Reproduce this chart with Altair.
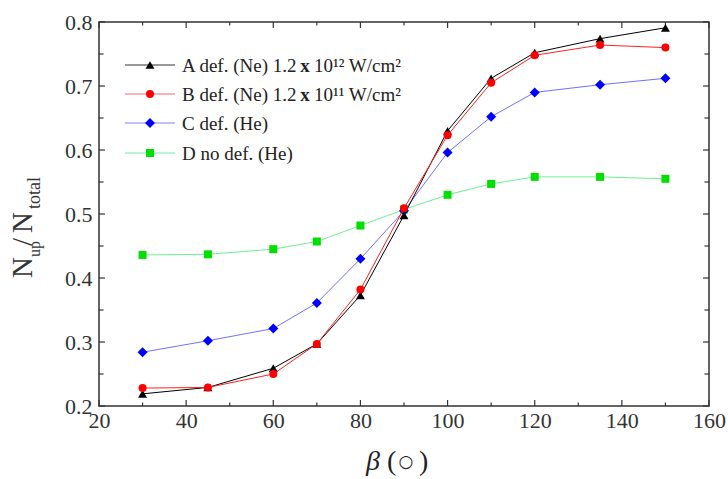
import altair as alt
import pandas as pd

# Detector angle beta (degrees)
beta = [30, 45, 60, 70, 80, 90, 100, 110, 120, 135, 150]

# Fraction N_up / N_total for each case
series_a = [0.219, 0.229, 0.259, 0.297, 0.373, 0.498, 0.630, 0.712, 0.752, 0.774, 0.791]
series_b = [0.228, 0.229, 0.250, 0.297, 0.382, 0.509, 0.623, 0.705, 0.748, 0.764, 0.760]
series_c = [0.284, 0.302, 0.321, 0.361, 0.430, 0.505, 0.596, 0.652, 0.690, 0.702, 0.712]
series_d = [0.436, 0.437, 0.445, 0.457, 0.482, 0.507, 0.530, 0.547, 0.558, 0.558, 0.555]

# Legend texts
legend_main = ["A def. (Ne) 1.2", "B def. (Ne) 1.2", "C def. (He)", "D no def. (He)"]
legend_power = ["10\u00b9\u00b2 W/cm\u00b2", "10\u00b9\u00b9 W/cm\u00b2"]

# Axis ticks
x_major = [20, 40, 60, 80, 100, 120, 140, 160]
x_minor = [30, 50, 70, 90, 110, 130, 150]
y_major = [0.2, 0.3, 0.4, 0.5, 0.6, 0.7, 0.8]
y_minor = [0.25, 0.35, 0.45, 0.55, 0.65, 0.75]

W, H = 610, 384
FONT = "Liberation Serif"

xs = alt.Scale(domain=[20, 160], nice=False, zero=False)
ys = alt.Scale(domain=[0.2, 0.8], nice=False, zero=False)

# One shared axis definition per direction (labels only; ticks drawn as rules)
x_axis = alt.Axis(values=x_major, title=None, ticks=False, domain=False, grid=False,
                  labelFlush=False, labelOverlap=False, labelPadding=4, labelFont=FONT,
                  labelFontSize=22, labelColor="#333333")
y_axis = alt.Axis(values=y_major, format=".1f", title=None, ticks=False, domain=False, grid=False,
                  labelOverlap=False, labelPadding=7, labelFont=FONT, labelFontSize=22,
                  labelColor="#333333")

def X(field):
    return alt.X(field, scale=xs, axis=x_axis)

def Y(field):
    return alt.Y(field, scale=ys, axis=y_axis)

styles = {
    "A": dict(vals=series_a, line="#000000", fill="#000000", shape="triangle-up", size=80),
    "B": dict(vals=series_b, line="#ff2020", fill="#ff0000", shape="circle", size=64),
    "C": dict(vals=series_c, line="#7070ff", fill="#0000ff", shape="diamond", size=100),
    "D": dict(vals=series_d, line="#70ee90", fill="#00e000", shape="square", size=64),
}

layers = []

# Inward tick marks on all four sides
TICK = "#333333"

def x_ticks(vals, length):
    df = pd.DataFrame({"x": vals})
    bottom = alt.Chart(df).mark_rule(color=TICK, strokeWidth=1.2).encode(
        x=X("x:Q"), y=alt.value(H), y2=alt.value(H - length))
    top = alt.Chart(df).mark_rule(color=TICK, strokeWidth=1.2).encode(
        x=X("x:Q"), y=alt.value(0), y2=alt.value(length))
    return [bottom, top]

def y_ticks(vals, length):
    df = pd.DataFrame({"y": vals})
    left = alt.Chart(df).mark_rule(color=TICK, strokeWidth=1.2).encode(
        y=Y("y:Q"), x=alt.value(0), x2=alt.value(length))
    right = alt.Chart(df).mark_rule(color=TICK, strokeWidth=1.2).encode(
        y=Y("y:Q"), x=alt.value(W), x2=alt.value(W - length))
    return [left, right]

layers += x_ticks(x_major, 6) + x_ticks(x_minor, 3.5)
layers += y_ticks(y_major, 6) + y_ticks(y_minor, 4.5)

# Data series: lines and markers
for key in ["D", "C", "A", "B"]:
    s = styles[key]
    df = pd.DataFrame({"beta": beta, "frac": s["vals"]})
    enc = dict(x=X("beta:Q"), y=Y("frac:Q"))
    layers.append(alt.Chart(df).mark_line(color=s["line"], strokeWidth=1).encode(**enc))
    layers.append(alt.Chart(df).mark_point(shape=s["shape"], filled=True, color=s["fill"],
                                           size=s["size"], opacity=1).encode(**enc))

# Legend
one = pd.DataFrame({"k": [0]})
legend_y = [43, 72, 101, 131]
legend_line = ["#333333", "#ff6070", "#8080ff", "#70f0a0"]
LFS = 19
for i, key in enumerate(["A", "B", "C", "D"]):
    s = styles[key]
    ly = legend_y[i]
    layers.append(alt.Chart(one).mark_rule(color=legend_line[i], strokeWidth=1).encode(
        x=alt.value(26), x2=alt.value(76), y=alt.value(ly)))
    layers.append(alt.Chart(one).mark_point(shape=s["shape"], filled=True, color=s["fill"],
                                            size=s["size"], opacity=1).encode(
        x=alt.value(51), y=alt.value(ly)))
    layers.append(alt.Chart(one).mark_text(text=legend_main[i], font=FONT, fontSize=LFS,
                                           align="left", baseline="middle", color="#222222").encode(
        x=alt.value(83), y=alt.value(ly + 1)))
    if i < 2:
        layers.append(alt.Chart(one).mark_text(text="x", font=FONT, fontSize=LFS, fontWeight="bold",
                                               align="center", baseline="middle", color="#222222").encode(
            x=alt.value(206), y=alt.value(ly + 1)))
        layers.append(alt.Chart(one).mark_text(text=legend_power[i], font=FONT, fontSize=LFS,
                                               align="left", baseline="middle", color="#222222").encode(
            x=alt.value(215), y=alt.value(ly + 1)))

# Y-axis title: N_up / N_total, rotated
def vtext(t, x, y, size):
    return alt.Chart(one).mark_text(text=t, font=FONT, fontSize=size, angle=270, align="left",
                                    baseline="alphabetic", color="#333333").encode(
        x=alt.value(x), y=alt.value(y))

layers += [
    vtext("N", -67, 256, 29),
    vtext("up", -59, 235, 16),
    vtext("/", -67, 224, 29),
    vtext("N", -67, 211, 29),
    vtext("total", -59, 187, 18),
]

# X-axis title: beta (degrees)
def htext(t, x, y, size, style="normal", font=FONT):
    return alt.Chart(one).mark_text(text=t, font=font, fontSize=size, fontStyle=style, align="left",
                                    baseline="alphabetic", color="#222222").encode(
        x=alt.value(x), y=alt.value(y))

layers += [
    htext("\u03b2", 267, 448, 28, style="italic"),
    htext("(", 288, 448, 28),
    alt.Chart(one).mark_text(text="\u25cb", font="DejaVu Sans", fontSize=17, align="center",
                             baseline="middle", color="#222222").encode(
        x=alt.value(307), y=alt.value(440)),
    htext(")", 320, 448, 28),
]

chart = alt.layer(*layers).properties(
    width=W, height=H,
    autosize=alt.AutoSizeParams(type="none"),
    padding={"left": 99, "top": 22, "right": 19, "bottom": 73},
    background="white",
).configure_view(stroke="#333333", strokeWidth=1.5)

chart.save("out.html", embed_options={"renderer": "svg", "actions": False})
